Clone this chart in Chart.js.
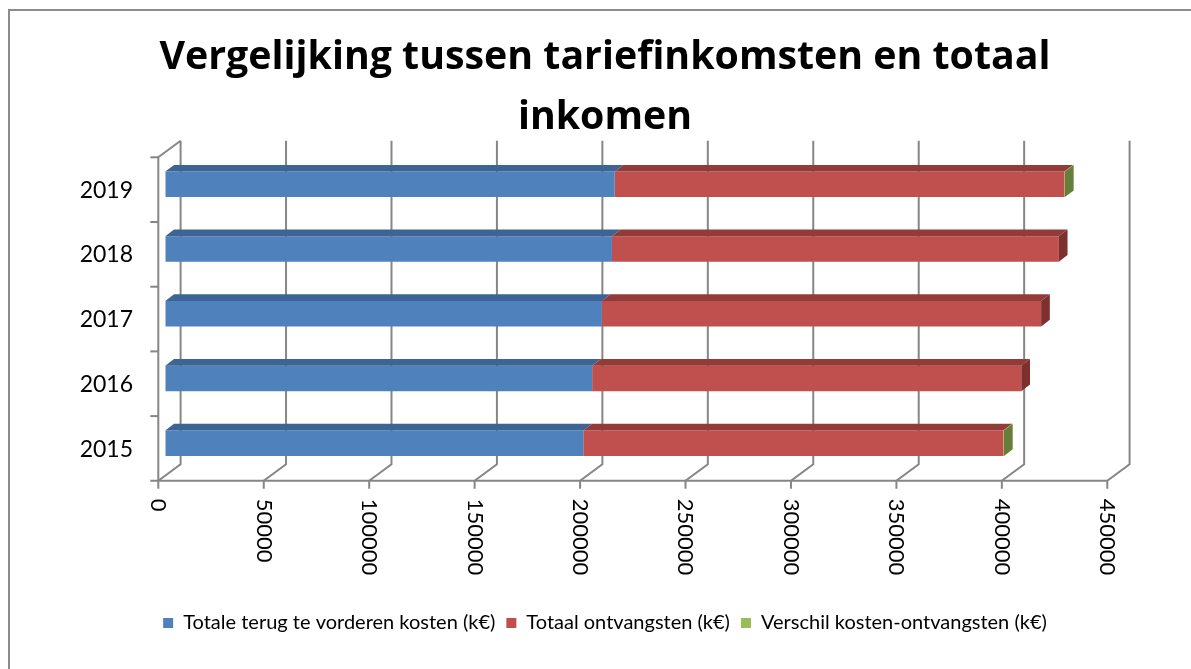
<!DOCTYPE html>
<html>
<head>
<meta charset="utf-8">
<script src="https://cdn.jsdelivr.net/npm/chart.js@4"></script>
<style>
  html, body { margin: 0; background: #fff; }
  #wrap { width: 1191px; height: 669px; }
</style>
</head>
<body>
<div id="wrap"><canvas id="grafiek" width="1191" height="669"></canvas></div>
<script>
// gegevens (k€)
const jaren = ["2015", "2016", "2017", "2018", "2019"];
const kosten = [198200, 202400, 207000, 211800, 213100];
const ontvangsten = [199200, 203500, 208300, 211900, 213200];
const verschil = [300, 0, 0, 0, 300];
const xTicks = [0, 50000, 100000, 150000, 200000, 250000, 300000, 350000, 400000, 450000];

// 3D look: voorvlak en achterwand t.o.v. het vlak van de balken
const VOOR = { dx: -7, dy: 5.3 };
const ACHTER = { dx: 15.3, dy: -11.3 };
const DIEPTE = { dx: 8.7, dy: 6.7 };
const lijnKleur = "#868686";

const kleuren = [
  { vlak: "#4F81BD", boven: "#3C6494", zij: "#36597F" },
  { vlak: "#C0504D", boven: "#933B39", zij: "#7E302E" },
  { vlak: "#9BBB59", boven: "#7A9446", zij: "#677E3A" }
];

// Rand, assen en achterwand
const assen3d = {
  id: "assen3d",
  beforeDraw(chart) {
    const ctx = chart.ctx;
    ctx.save();
    ctx.strokeStyle = "#8C8C8C";
    ctx.lineWidth = 2;
    ctx.beginPath();
    ctx.moveTo(9, 669);
    ctx.lineTo(9, 10);
    ctx.lineTo(1191, 10);
    ctx.stroke();
    ctx.restore();
  },
  beforeDatasetsDraw(chart) {
    const { ctx, chartArea: a, scales: { x, y } } = chart;
    const x0 = x.getPixelForValue(0);
    const xMax = x.getPixelForValue(xTicks[xTicks.length - 1]);
    const stap = (a.bottom - a.top) / jaren.length;

    ctx.save();
    ctx.strokeStyle = lijnKleur;
    ctx.lineWidth = 2;

    // rasterlijnen achterwand + schuine lijnen naar voorste as
    xTicks.forEach(v => {
      const px = x.getPixelForValue(v);
      ctx.beginPath();
      ctx.moveTo(px + ACHTER.dx, a.top + ACHTER.dy);
      ctx.lineTo(px + ACHTER.dx, a.bottom + ACHTER.dy);
      ctx.lineTo(px + VOOR.dx, a.bottom + VOOR.dy);
      ctx.lineTo(px + VOOR.dx, a.bottom + VOOR.dy + 8);
      ctx.stroke();
    });

    // linker as (voor) met schuine lijn bovenaan
    ctx.beginPath();
    ctx.moveTo(x0 + ACHTER.dx, a.top + ACHTER.dy);
    ctx.lineTo(x0 + VOOR.dx, a.top + VOOR.dy);
    ctx.lineTo(x0 + VOOR.dx, a.bottom + VOOR.dy);
    ctx.stroke();

    // onderste as (voor)
    ctx.beginPath();
    ctx.moveTo(x0 + VOOR.dx - 8, a.bottom + VOOR.dy);
    ctx.lineTo(xMax + VOOR.dx, a.bottom + VOOR.dy);
    ctx.stroke();

    // streepjes op de categorie-as
    for (let k = 0; k < jaren.length; k++) {
      const py = a.top + k * stap + VOOR.dy;
      ctx.beginPath();
      ctx.moveTo(x0 + VOOR.dx - 8, py);
      ctx.lineTo(x0 + VOOR.dx, py);
      ctx.stroke();
    }

    // labels
    ctx.fillStyle = "#000";
    ctx.font = "23px Lato";
    ctx.textAlign = "right";
    ctx.textBaseline = "middle";
    jaren.forEach((jaar, i) => {
      ctx.fillText(jaar, 133, y.getPixelForValue(i) + 6);
    });

    ctx.font = "22px Lato";
    ctx.textAlign = "left";
    xTicks.forEach(v => {
      const px = x.getPixelForValue(v);
      ctx.save();
      ctx.translate(px + VOOR.dx, a.bottom + VOOR.dy + 18);
      ctx.rotate(Math.PI / 2);
      ctx.fillText(String(v), 0, 0);
      ctx.restore();
    });
    ctx.restore();
  },
  afterDatasetsDraw(chart) {
    const ctx = chart.ctx;
    ctx.save();
    jaren.forEach((jaar, i) => {
      let laatste = null;
      chart.data.datasets.forEach((ds, d) => {
        if (!ds.data[i]) return;
        const el = chart.getDatasetMeta(d).data[i];
        const { x, y, base, height } = el.getProps(["x", "y", "base", "height"], true);
        const top = y - height / 2;
        ctx.fillStyle = kleuren[d].boven;
        ctx.beginPath();
        ctx.moveTo(base, top);
        ctx.lineTo(x, top);
        ctx.lineTo(x + DIEPTE.dx, top - DIEPTE.dy);
        ctx.lineTo(base + DIEPTE.dx, top - DIEPTE.dy);
        ctx.closePath();
        ctx.fill();
        laatste = { d, x, top, bottom: top + height };
      });
      if (laatste) {
        ctx.fillStyle = kleuren[laatste.d].zij;
        ctx.beginPath();
        ctx.moveTo(laatste.x, laatste.top);
        ctx.lineTo(laatste.x + DIEPTE.dx, laatste.top - DIEPTE.dy);
        ctx.lineTo(laatste.x + DIEPTE.dx, laatste.bottom - DIEPTE.dy);
        ctx.lineTo(laatste.x, laatste.bottom);
        ctx.closePath();
        ctx.fill();
      }
    });
    ctx.restore();
  }
};

const ctx = document.getElementById("grafiek").getContext("2d");

const grafiek = new Chart(ctx, {
  type: "bar",
  data: {
    labels: jaren,
    datasets: [
      { label: "Totale terug te vorderen kosten (k€)", data: kosten, backgroundColor: kleuren[0].vlak },
      { label: "Totaal ontvangsten (k€)", data: ontvangsten, backgroundColor: kleuren[1].vlak },
      { label: "Verschil kosten-ontvangsten (k€)", data: verschil, backgroundColor: kleuren[2].vlak }
    ]
  },
  plugins: [assen3d],
  options: {
    indexAxis: "y",
    responsive: false,
    animation: false,
    barPercentage: 0.394,
    categoryPercentage: 1,
    layout: { padding: { left: 19, right: 0, top: 10, bottom: 26 } },
    scales: {
      x: {
        type: "linear",
        stacked: true,
        min: 0,
        max: 450000,
        grid: { display: false },
        border: { display: false },
        ticks: { display: false, stepSize: 50000 },
        afterFit: s => { s.height = 126.5; }
      },
      y: {
        stacked: true,
        reverse: true,
        grid: { display: false },
        border: { display: false },
        ticks: { display: false },
        afterFit: s => { s.width = 146.3; }
      },
      rechts: {
        type: "linear",
        position: "right",
        grid: { display: false },
        border: { display: false },
        ticks: { display: false },
        afterFit: s => { s.width = 76.7; }
      }
    },
    plugins: {
      title: {
        display: true,
        text: ["Vergelijking tussen tariefinkomsten en totaal", "inkomen"],
        color: "#000",
        font: { family: "'Open Sans'", weight: "bold", size: 39.3, lineHeight: 60 / 39.3 },
        padding: { top: 18, bottom: 4 }
      },
      legend: {
        position: "bottom",
        labels: {
          color: "#000",
          font: { family: "Lato", size: 20 },
          boxWidth: 10,
          boxHeight: 10,
          padding: 11
        }
      },
      tooltip: { enabled: false }
    }
  }
});
</script>
</body>
</html>
